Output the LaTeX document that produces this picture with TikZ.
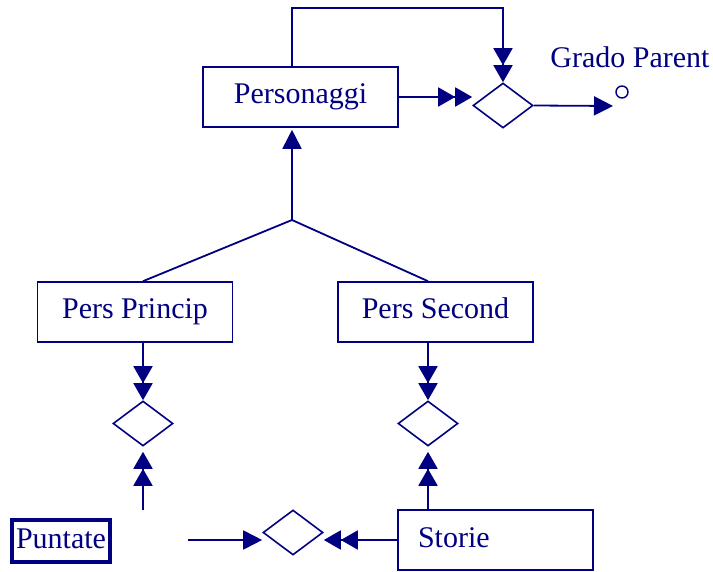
\documentclass[tikz,border=0pt]{standalone}
\usepackage{fontspec}
\setmainfont{Liberation Serif}
\usetikzlibrary{shapes.geometric, arrows.meta, positioning}
\definecolor{ernavy}{RGB}{0,0,128}

\begin{document}
\begin{tikzpicture}[
    x=1pt, y=-1pt,
    every node/.style={font=\fontsize{30}{36}\selectfont, text=ernavy},
    entity/.style={rectangle, draw=ernavy, line width=1.6pt, minimum width=195pt, minimum height=60pt, inner sep=0pt, text height=20pt, text depth=6pt},
    weak/.style={rectangle, draw=ernavy, line width=3.5pt, minimum width=98pt, minimum height=42pt, inner sep=0pt, text height=20pt, text depth=6pt},
    relation/.style={diamond, draw=ernavy, line width=1.6pt, minimum width=60pt, minimum height=45pt, inner sep=0pt},
    attr/.style={circle, draw=ernavy, line width=1.4pt, minimum size=12pt, inner sep=0pt},
    line/.style={draw=ernavy, line width=1.8pt},
    arrow/.style={line, -{Triangle[length=19pt,width=19pt]}},
    dbl_arrow/.style={line, -{Triangle[length=17pt,width=19pt] Triangle[length=17pt,width=19pt]}}
]
\useasboundingbox (0,0) rectangle (713,572);

% entities
\node (pers) [entity] at (300.5,97) {Personaggi};
\node (princ) [entity] at (135,312) {Pers Princip};
\node (second) [entity] at (435.5,312) {Pers Second};
\node (storie) [entity, text width=155pt, align=left, inner xsep=20pt] at (495.5,540) {Storie};
\node (puntate) [weak] at (61,541) {Puntate};

% relations
\node (grado) [relation] at (503,105.5) {};
\node (relprinc) [relation] at (143,423.5) {};
\node (relsecond) [relation] at (428,423.5) {};
\node (relstorie) [relation] at (293,532.5) {};

% attribute
\node (gradoattr) [attr] at (622,92) {};
\node (gradolabel) at (630,57) {Grado Parent};

% free ends
\coordinate (loop) at (503,8);
\coordinate (isa) at (292,220);
\coordinate (gradoend) at (613,106);
\coordinate (princfrom) at (143,510);
\coordinate (puntfrom) at (188,540);

% Arrows
\draw [dbl_arrow] ([xshift=-8.5pt]pers.north) |- (loop) -- (grado.north);
\draw [dbl_arrow] (pers.east) -- (pers.east -| grado.west);
\draw [arrow] (grado.east) -- (gradoend);

\draw [arrow, shorten >=2pt] (isa) -- (pers.south -| isa);
\draw [line] (isa) -- (princ.north -| relprinc);
\draw [line] (isa) -- (second.north -| relsecond);

\draw [dbl_arrow] (princ.south -| relprinc) -- (relprinc.north);
\draw [dbl_arrow, shorten >=5pt] (princfrom) -- (relprinc.south);
\draw [dbl_arrow] (second.south -| relsecond) -- (relsecond.north);
\draw [dbl_arrow, shorten >=5pt] (storie.north -| relsecond) -- (relsecond.south);

\draw [dbl_arrow] (storie.west) -- (storie.west -| relstorie.east);
\draw [arrow] (puntfrom) -- (puntfrom -| relstorie.west);

\end{tikzpicture}
\end{document}
